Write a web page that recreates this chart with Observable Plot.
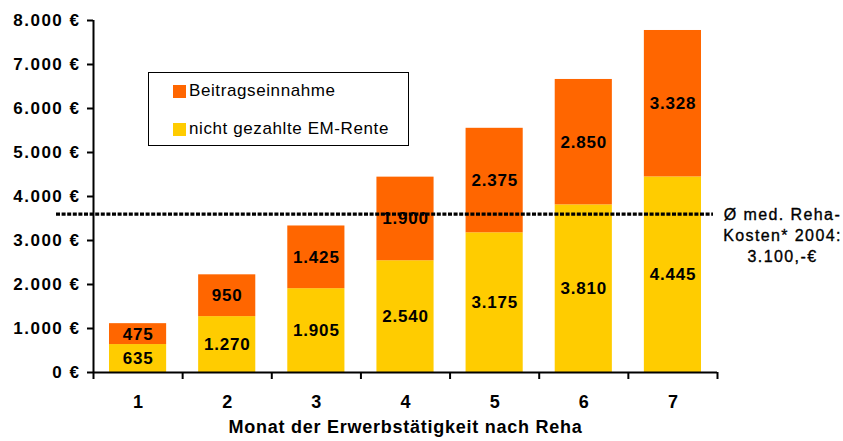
<!DOCTYPE html>
<html>
<head>
<meta charset="utf-8">
<script src="https://cdn.jsdelivr.net/npm/d3@7"></script>
<script src="https://cdn.jsdelivr.net/npm/@observablehq/plot@0.6"></script>
<style>
  html, body { margin: 0; padding: 0; background: #fff; }
  #wrap { position: relative; width: 843px; height: 441px; font-family: "Liberation Sans", Arial, sans-serif; }
  #legend { position: absolute; left: 148px; top: 72px; width: 259px; height: 72px; border: 1.5px solid #000; background: #fff; }
  .row { position: absolute; left: 24px; display: flex; align-items: center; font-size: 17px; letter-spacing: 0.6px; color: #000; }
  .sw { width: 13px; height: 13px; margin-right: 3px; }
</style>
</head>
<body>
<div id="wrap"></div>
<script>
const months = [1, 2, 3, 4, 5, 6, 7];
const emRente = [635, 1270, 1905, 2540, 3175, 3810, 4445];
const beitrag = [475, 950, 1425, 1900, 2375, 2850, 3328];
const series = ["nicht gezahlte EM-Rente", "Beitragseinnahme"];
const colors = ["#FFCC00", "#FF6600"];
const legendOrder = ["Beitragseinnahme", "nicht gezahlte EM-Rente"];
const yTicks = [0, 1000, 2000, 3000, 4000, 5000, 6000, 7000, 8000];
const xDomain = [0.5, 7.5];
const xBoundaries = [0.5, 1.5, 2.5, 3.5, 4.5, 5.5, 6.5, 7.5];
const refCost = 3600;
const refLabel = "Ø med. Reha-\nKosten* 2004:\n3.100,-€";
const xTitle = "Monat der Erwerbstätigkeit nach Reha";

const de = d3.formatLocale({decimal: ",", thousands: ".", grouping: [3], currency: ["", " €"]});
const fmt = de.format(",d");

const data = months.flatMap((m, i) => [
  {month: m, series: series[0], value: emRente[i]},
  {month: m, series: series[1], value: beitrag[i]}
]);

const chart = Plot.plot({
  width: 843,
  height: 441,
  marginLeft: 93,
  marginRight: 126,
  marginTop: 20,
  marginBottom: 69,
  style: {fontFamily: "'Liberation Sans', Arial, sans-serif", color: "#000", background: "#fff"},
  x: {type: "linear", domain: xDomain},
  y: {domain: [0, 8000]},
  color: {domain: series, range: colors},
  marks: [
    Plot.rectY(data, Plot.stackY({
      x1: d => d.month - 0.5, x2: d => d.month + 0.5,
      y: "value", fill: "series", insetLeft: 16, insetRight: 16
    })),
    Plot.text(data, Plot.stackY({
      x: "month", y: "value", z: "series",
      text: d => fmt(d.value), fontWeight: "bold", fontSize: 17, fill: "#000"
    })),
    Plot.ruleY([refCost], {stroke: "#000", strokeWidth: 3.3, strokeDasharray: "4 1.6", insetLeft: -37, insetRight: 4}),
    Plot.ruleX([xDomain[0]], {stroke: "#000", strokeWidth: 2}),
    Plot.ruleY([0], {stroke: "#000", strokeWidth: 2}),
    Plot.axisY({ticks: yTicks, tickFormat: d => fmt(d) + " €", tickSize: 6, tickPadding: 7,
      fontWeight: "bold", fontSize: 17, strokeWidth: 2, label: null}),
    Plot.axisX({ticks: xBoundaries, tickFormat: () => "", tickSize: 7, strokeWidth: 2, label: null}),
    Plot.axisX({ticks: months, tickFormat: d => String(d), tickSize: 0, tickPadding: 23,
      fontWeight: "bold", fontSize: 18, label: null}),
    Plot.text([xTitle], {frameAnchor: "bottom", dy: 60, fontWeight: "bold", fontSize: 18, fill: "#000"}),
    Plot.text([refCost], {y: d => d, text: () => refLabel, frameAnchor: "right", dx: 65, dy: 20,
      textAnchor: "middle", lineAnchor: "middle", lineHeight: 1.3, fontSize: 16, fill: "#000",
      stroke: "#000", strokeWidth: 0.35})
  ]
});

const wrap = document.getElementById("wrap");
wrap.appendChild(chart);

// letter spacing tweaks
const svg = d3.select(chart);
svg.selectAll('g[aria-label="y-axis tick label"] text').style("letter-spacing", "1.5px");
const textGroups = svg.selectAll('g[aria-label="text"]').nodes();
if (textGroups[0]) d3.select(textGroups[0]).selectAll("text").style("letter-spacing", "0.8px");
if (textGroups[1]) d3.select(textGroups[1]).selectAll("text").style("letter-spacing", "0.75px");
if (textGroups[2]) d3.select(textGroups[2]).selectAll("text").style("letter-spacing", "1.4px");

// legend
const legend = document.createElement("div");
legend.id = "legend";
legendOrder.forEach((s, i) => {
  const row = document.createElement("div");
  row.className = "row";
  row.style.top = (i === 0 ? 8 : 46) + "px";
  const sw = document.createElement("span");
  sw.className = "sw";
  sw.style.background = colors[series.indexOf(s)];
  const lab = document.createElement("span");
  lab.textContent = s;
  row.appendChild(sw);
  row.appendChild(lab);
  legend.appendChild(row);
});
wrap.appendChild(legend);
</script>
</body>
</html>
